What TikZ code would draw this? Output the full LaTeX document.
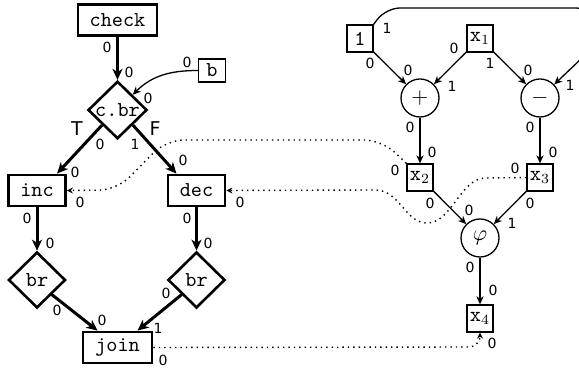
\documentclass[tikz,border=0pt]{standalone}
\usepackage{fontspec}
\usetikzlibrary{shapes.geometric,arrows.meta}
\newfontfamily\labfont{DejaVu Sans}
\newcommand{\nfont}{\fontsize{10.6}{12}\selectfont\ttfamily}
\newcommand{\lfont}{\labfont\fontsize{7}{8}\selectfont}
\newcommand{\tffont}{\labfont\fontsize{9.5}{10}\selectfont}
\begin{document}
\begin{tikzpicture}[x=0.5pt,y=0.5pt,
  blk/.style={draw, line width=1.4pt, inner sep=0pt, minimum width=28.5pt, minimum height=15.5pt, font=\nfont},
  dia/.style={diamond, draw, line width=1.3pt, inner sep=0pt, minimum width=29pt, minimum height=28pt, font=\nfont},
  val/.style={draw, line width=0.65pt, inner sep=0pt, minimum width=13pt, minimum height=13.5pt, font=\nfont},
  op/.style={circle, draw, line width=0.65pt, inner sep=0pt, minimum size=19pt, font=\nfont},
  thk/.style={line width=1.5pt, -{Stealth[length=5.5pt,width=5pt,inset=1.6pt]}},
  thn/.style={line width=0.65pt, -{Stealth[length=4pt,width=3.6pt,inset=1.2pt]}},
  dot/.style={line width=0.7pt, dotted, -{Stealth[length=3pt,width=3pt,inset=1pt]}},
  lab/.style={inner sep=0pt, font=\lfont},
  tf/.style={inner sep=0pt, font=\tffont}]
\useasboundingbox (0,0) rectangle (579,-368);
\clip (0,0) rectangle (579,-368);
% left graph
\node[blk, minimum width=39.5pt] (check) at (117.5,-20) {check};
\node[val, minimum width=13.5pt, minimum height=11.5pt] (b) at (212,-70.5) {b};
\node[dia, minimum width=29.5pt] (cbr) at (117.5,-110) {c.br};
\node[blk] (inc) at (37,-190.5) {inc};
\node[blk] (dec) at (196.5,-190.5) {dec};
\node[dia, minimum width=28.5pt] (brL) at (37,-280) {br};
\node[dia, minimum width=28.5pt] (brR) at (196.5,-280) {br};
\node[blk, minimum width=34.5pt] (join) at (117.5,-347.5) {join};
% right graph
\node[val] (one) at (360,-38.5) {1};
\node[val] (x1) at (480,-38.5) {\texttt{x}$_1$};
\node[op] (plus) at (420,-98) {$+$};
\node[op] (minus) at (540,-98) {$-$};
\node[val] (x2) at (420,-177.5) {\texttt{x}$_2$};
\node[val] (x3) at (540,-177.5) {\texttt{x}$_3$};
\node[op] (phi) at (480,-238) {$\varphi$};
\node[val] (x4) at (480,-318.5) {\texttt{x}$_4$};
% thick control edges
\draw[thk] (check) -- (cbr);
\draw[thk] (cbr.south west) -- ([xshift=10pt]inc.north);
\draw[thk] (cbr.south east) -- ([xshift=-10pt]dec.north);
\draw[thk] (inc) -- (brL);
\draw[thk] (dec) -- (brR);
\draw[thk] (brL.south east) -- ([xshift=-10pt]join.north);
\draw[thk] (brR.south west) -- ([xshift=10pt]join.north);
% thin data edges
\draw[thn] (b.west) to[out=180,in=45] (cbr);
\draw[thn] (one) -- (plus);
\draw[thn] (x1) -- (plus);
\draw[thn] (x1) -- (minus);
\draw[thn, rounded corners=7pt] (one.north east) -- (386,-8) -- (590,-8) -- (603,-38) -- (minus);
\draw[thn] (plus) -- (x2);
\draw[thn] (minus) -- (x3);
\draw[thn] (x2) -- (phi);
\draw[thn] (x3) -- (phi);
\draw[thn] (phi) -- (x4);
% dotted edges
\draw[dot, rounded corners=9pt] (x2.north west) -- (382,-140) -- (166,-140) -- (117,-190) -- (inc.east);
\draw[dot] (x3.west) -- (486,-178) .. controls (460,-178) and (452,-223) .. (427,-223) .. controls (405,-223) and (400,-190) .. (375,-190) -- (dec.east);
\draw[dot] (join.east) -- (470,-347) to[out=0,in=-90] (x4.south);
% labels
\node[lab] (l1) at (107,-47) {0};
\node[lab] (l2) at (129,-72) {0};
\node[lab] (l3) at (187,-62) {0};
\node[lab] (l4) at (148,-98) {0};
\node[tf] (lT) at (77,-129) {T};
\node[tf] (lF) at (155,-129) {F};
\node[lab] (l5) at (100,-144) {0};
\node[lab] (l6) at (135,-144) {1};
\node[lab] (l7) at (75,-172) {0};
\node[lab] (l8) at (183,-160) {0};
\node[lab] (l9) at (27,-218) {0};
\node[lab] (l10) at (50,-243) {0};
\node[lab] (l11) at (187,-218) {0};
\node[lab] (l12) at (208,-243) {0};
\node[lab] (l13) at (57,-310) {0};
\node[lab] (l14) at (102,-320) {0};
\node[lab] (l15) at (166,-293) {0};
\node[lab] (l16) at (158,-328) {1};
\node[lab] (l17) at (163,-360) {0};
\node[lab] (l18) at (492,-343) {0};
\node[lab] (l19) at (80,-202) {0};
\node[lab] (l20) at (395,-170) {0};
\node[lab] (l21) at (240,-202) {0};
\node[lab] (l22) at (515,-168) {0};
\node[lab] (l23) at (370,-63) {0};
\node[lab] (l24) at (408,-70) {0};
\node[lab] (l25) at (454,-48) {0};
\node[lab] (l26) at (452,-86) {1};
\node[lab] (l27) at (490,-63) {1};
\node[lab] (l28) at (528,-70) {0};
\node[lab] (l29) at (387,-28) {1};
\node[lab] (l30) at (570,-85) {1};
\node[lab] (l31) at (410,-127) {0};
\node[lab] (l32) at (432,-152) {0};
\node[lab] (l33) at (530,-127) {0};
\node[lab] (l34) at (553,-152) {0};
\node[lab] (l35) at (430,-203) {0};
\node[lab] (l36) at (469,-210) {0};
\node[lab] (l37) at (530,-203) {0};
\node[lab] (l38) at (512,-223) {1};
\node[lab] (l39) at (470,-267) {0};
\node[lab] (l40) at (493,-290) {0};
\end{tikzpicture}
\end{document}
